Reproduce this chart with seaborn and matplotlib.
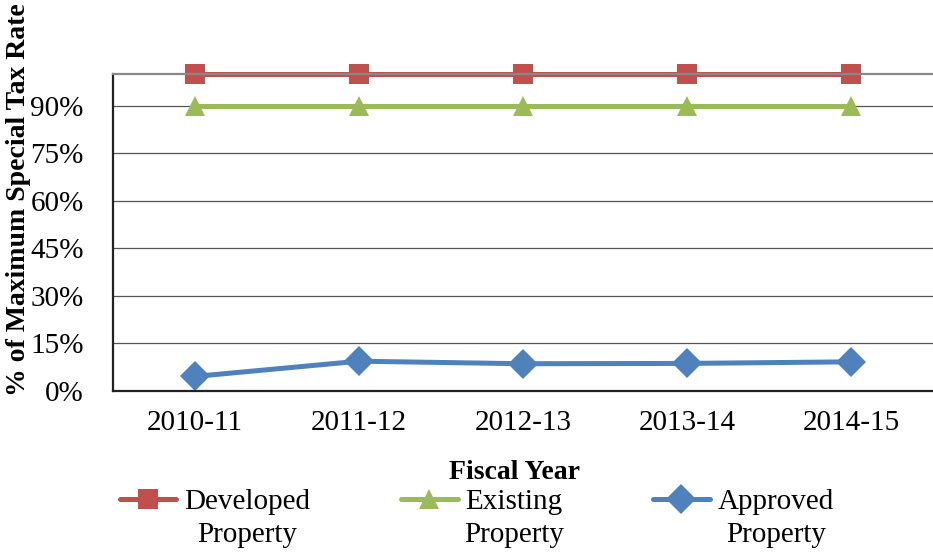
import pandas as pd
import seaborn as sns
import matplotlib as mpl
mpl.use("Agg")
import matplotlib.pyplot as plt
from matplotlib.ticker import FuncFormatter


years = ["2010-11", "2011-12", "2012-13", "2013-14", "2014-15"]
developed = [100, 100, 100, 100, 100]
existing = [90, 90, 90, 90, 90]
approved = [4.6, 9.4, 8.6, 8.7, 9.2]

series_names = ["Developed", "Existing", "Approved"]
colors = ["#C0504D", "#9BBB59", "#4F81BD"]
markers = ["s", "^", "D"]

df = pd.DataFrame({
    "year": years * 3,
    "value": developed + existing + approved,
    "series": [series_names[0]] * 5 + [series_names[1]] * 5 + [series_names[2]] * 5,
})

sns.set_style("white")
plt.rcParams["font.family"] = ["Liberation Serif", "DejaVu Serif"]
plt.rcParams["text.color"] = "black"
plt.rcParams["axes.labelcolor"] = "black"
plt.rcParams["xtick.color"] = "black"
plt.rcParams["ytick.color"] = "black"

fig = plt.figure(figsize=(9.33, 5.52), dpi=100)
ax = fig.add_axes([113 / 933, 161 / 552, 820 / 933, 317 / 552])

sns.lineplot(data=df, x="year", y="value", hue="series", style="series",
             palette=colors, markers=markers, dashes=False, linewidth=3.6,
             markersize=15, markeredgewidth=0, clip_on=False, ax=ax)

ax.set_xlim(-0.5, 4.5)
ax.set_ylim(0, 100)
ax.set_yticks([0, 15, 30, 45, 60, 75, 90])
ax.yaxis.set_major_formatter(FuncFormatter(lambda v, p: f"{v:.0f}%"))
ax.grid(axis="y", color="#555555", linewidth=0.9)
ax.set_axisbelow(True)
ax.tick_params(axis="y", length=0, pad=21, labelsize=21)
ax.tick_params(axis="x", length=0, pad=14, labelsize=21)

for side in ["left", "bottom"]:
    ax.spines[side].set_color("#222222")
    ax.spines[side].set_linewidth(1.6)
ax.spines["top"].set_color("#888888")
ax.spines["top"].set_linewidth(1.6)
ax.spines["right"].set_visible(False)

ax.set_ylabel("% of Maximum Special Tax Rate", fontsize=20, fontweight="bold")
ax.yaxis.set_label_coords(-0.1, 0.605)
ax.set_xlabel("Fiscal Year", fontsize=20, fontweight="bold")
ax.xaxis.set_label_coords(0.49, -0.218)

leg = ax.legend(loc="upper left", bbox_to_anchor=(0.008, -0.308), ncol=3,
                frameon=False, fontsize=21, handlelength=1.95, handletextpad=0.27,
                columnspacing=3.1, borderaxespad=0, borderpad=0)

# second line of each legend label, centred under the first
fig.canvas.draw()
inv = fig.transFigure.inverted()
for t in leg.get_texts():
    bb = t.get_window_extent()
    cx = (bb.x0 + bb.x1) / 2
    cy = (bb.y0 + bb.y1) / 2 - 33
    fx, fy = inv.transform((cx, cy))
    fig.text(fx, fy, "Property", fontsize=21, ha="center", va="center")

fig.savefig("out.png", dpi=100)
